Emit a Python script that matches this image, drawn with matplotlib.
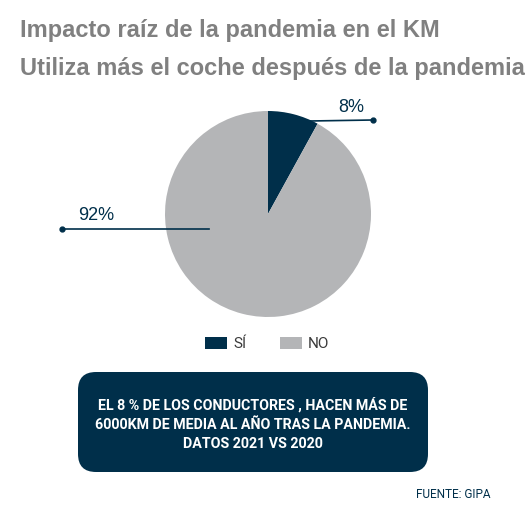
import matplotlib
matplotlib.use("Agg")
import matplotlib.pyplot as plt
from matplotlib.patches import FancyBboxPatch

# data
labels = ["SÍ", "NO"]
values = [8, 92]
pct_labels = ["8%", "92%"]
colors = ["#002f4a", "#b4b5b7"]

title1 = "Impacto raíz de la pandemia en el KM"
title2 = "Utiliza más el coche después de la pandemia"
note = "EL 8 % DE LOS CONDUCTORES , HACEN MÁS DE\n6000KM DE MEDIA AL AÑO TRAS LA PANDEMIA.\nDATOS 2021 VS 2020"
source = "FUENTE: GIPA"

NAVY = "#002f4a"
# no condensed face installed, Roboto is the narrowest of what is there
narrow = ["Roboto", "DejaVu Sans"]

W, H = 532, 524
fig = plt.figure(figsize=(W / 100, H / 100), dpi=100)
ax = fig.add_axes([0, 0, 1, 1])

def y(px):
    return H - px

# titles
fig.text(20 / W, 1 - 30 / H, title1, fontsize=17, fontweight="bold",
         color="#808080", family="Liberation Sans", va="center")
fig.text(20 / W, 1 - 68 / H, title2, fontsize=17, fontweight="bold",
         color="#808080", family="Liberation Sans", va="center")

# pie
wedges, _ = ax.pie(values, colors=colors, startangle=90, counterclock=False,
                   center=(268, y(214)), radius=103,
                   wedgeprops=dict(linewidth=0))
ax.set_xlim(0, W)
ax.set_ylim(0, H)
ax.set_aspect("auto")
ax.axis("off")

# leader lines + labels
ax.plot([310, 373], [y(121), y(120)], color=NAVY, lw=1.2)
ax.plot([373], [y(120)], "o", color=NAVY, ms=3.5)
ax.text(364, y(108), pct_labels[0], fontsize=13, color=NAVY,
        family="Liberation Sans", ha="right", va="center")

ax.plot([62, 209], [y(229), y(229)], color=NAVY, lw=1.2)
ax.plot([62], [y(229)], "o", color=NAVY, ms=3.5)
ax.text(78, y(215), pct_labels[1], fontsize=13, color=NAVY,
        family="Liberation Sans", ha="left", va="center")

# legend
leg = ax.legend(wedges, labels, loc="center", bbox_to_anchor=(267 / W, 1 - 344 / H),
                ncol=2, frameon=False, handlelength=1.45, handleheight=0.85,
                columnspacing=2.2, handletextpad=0.4,
                prop=dict(family=narrow, size=11))
for t in leg.get_texts():
    t.set_color("#3a3a3a")

# note box
box = FancyBboxPatch((78, y(472)), 350, 100,
                     boxstyle="round,pad=0,rounding_size=18",
                     facecolor=NAVY, edgecolor="none")
ax.add_patch(box)
ax.text(253, y(424), note, fontsize=10.3, fontweight="bold", color="white",
        family=narrow, ha="center", va="center", linespacing=1.45)

ax.text(490, y(495), source, fontsize=8.5, color=NAVY, family=narrow,
        ha="right", va="center")

fig.savefig("out.png", dpi=100)
